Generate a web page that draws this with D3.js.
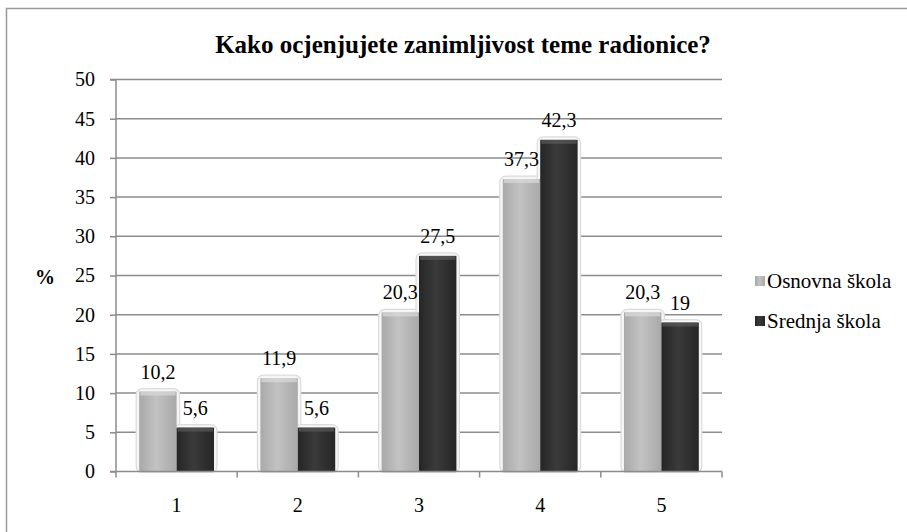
<!DOCTYPE html>
<html><head><meta charset="utf-8">
<script src="https://cdn.jsdelivr.net/npm/d3@7"></script>
<style>
body{margin:0}
svg text{font-family:"Liberation Serif","Times New Roman",Tinos,serif !important;}
</style>
</head><body>
<script>
const categories = ["1","2","3","4","5"];
const seriesNames = ["Osnovna škola","Srednja škola"];
const osnovna = [10.2, 11.9, 20.3, 37.3, 20.3];
const srednja = [5.6, 5.6, 27.5, 42.3, 19];
const yTicks = [0,5,10,15,20,25,30,35,40,45,50];
const labels1 = ["10,2","11,9","20,3","37,3","20,3"];
const labels2 = ["5,6","5,6","27,5","42,3","19"];
const title = "Kako ocjenjujete zanimljivost teme radionice?";

const W=907,H=532;
const font="Liberation Serif";
const svg=d3.select("body").append("svg").attr("width",W).attr("height",H).style("display","block");
function ff(sel,size,bold){
  sel.attr("font-family",font).style("font-size",size+"px");
  if(bold) sel.style("font-weight","bold");
  return sel;
}
const defs=svg.append("defs");
function grad(id, edge, mid){
  const g=defs.append("linearGradient").attr("id",id).attr("x1","0").attr("x2","1").attr("y1","0").attr("y2","0");
  g.append("stop").attr("offset","0%").attr("stop-color",edge);
  g.append("stop").attr("offset","45%").attr("stop-color",mid);
  g.append("stop").attr("offset","100%").attr("stop-color",edge);
}
grad("gL","#a9a9a9","#c2c2c2");
grad("gD","#262626","#3a3a3a");
const colors=["url(#gL)","url(#gD)"];

// border
svg.append("path").attr("d","M6.5,540 V8.5 H920").attr("fill","none").attr("stroke","#9a9a9a").attr("stroke-width",1.5);

const x0=116,x1=722,yT=79.5,yB=471.5;
const x=d3.scaleBand().domain(categories).range([x0,x1]);
const xs=d3.scaleBand().domain([0,1]).range([0,x.bandwidth()]).paddingOuter(0.62).paddingInner(0);
const y=d3.scaleLinear().domain([0,50]).range([yB,yT]);

// gridlines
svg.append("g").selectAll("line").data(yTicks.filter(d=>d>0)).join("line")
 .attr("x1",x0).attr("x2",x1).attr("y1",d=>y(d)).attr("y2",d=>y(d))
 .attr("stroke","#8c8c8c").attr("stroke-width",1.5);

// y axis
const ya=svg.append("g").attr("transform",`translate(${x0},0)`).call(d3.axisLeft(y).tickValues(yTicks).tickSize(6).tickPadding(15));
ya.attr("font-family",font).attr("font-size",20);
ya.select(".domain").attr("stroke","#8c8c8c").attr("stroke-width",1.5).attr("d",`M-6,${yB}H0V${yT}H-6`);
ya.selectAll(".tick line").attr("stroke","#8c8c8c").attr("stroke-width",1.5);
ff(ya.selectAll("text"),20).attr("fill","#000");

// bars
const data=[osnovna,srednja];
const gb=svg.append("g");
categories.forEach((c,i)=>{
  [0,1].forEach(s=>{
    const v=data[s][i];
    const bx=x(c)+xs(s), bw=xs.bandwidth();
    gb.append("rect").attr("x",bx-3).attr("y",y(v)-3).attr("width",bw+6).attr("height",yB-y(v)+4)
      .attr("rx",6).attr("fill","#f6f6f6").attr("stroke","#dcdcdc").attr("stroke-width",1.2);
  });
});
categories.forEach((c,i)=>{
  [0,1].forEach(s=>{
    const v=data[s][i];
    const bx=x(c)+xs(s), bw=xs.bandwidth();
    gb.append("rect").attr("x",bx).attr("y",y(v)).attr("width",bw).attr("height",yB-y(v))
      .attr("fill",colors[s]);
    gb.append("rect").attr("x",bx+1).attr("y",y(v)).attr("width",bw-2).attr("height",4)
      .attr("fill",s===0?"#dadada":"#5a5a5a").attr("opacity",0.7);
  });
});

// x axis
const xa=svg.append("g").attr("transform",`translate(0,${yB})`).call(d3.axisBottom(x).tickSize(0).tickPadding(26));
xa.attr("font-family",font).attr("font-size",20);
xa.select(".domain").attr("stroke","#8c8c8c").attr("stroke-width",1.5).attr("d",`M${x0},0H${x1}`);
ff(xa.selectAll("text"),20).attr("fill","#000");
svg.append("g").selectAll("line").data(d3.range(categories.length+1)).join("line")
 .attr("x1",d=>x0+d*x.step()).attr("x2",d=>x0+d*x.step()).attr("y1",yB).attr("y2",yB+6)
 .attr("stroke","#8c8c8c").attr("stroke-width",1.5);

// data labels
const gl=svg.append("g").attr("text-anchor","middle");
categories.forEach((c,i)=>{
  [[labels1,osnovna,0],[labels2,srednja,1]].forEach(([lab,vals,s])=>{
    ff(gl.append("text").attr("x",x(c)+xs(s)+xs.bandwidth()/2).attr("y",y(vals[i])-13),20).text(lab[i]);
  });
});

// title
ff(svg.append("text").attr("x",463).attr("y",53).attr("text-anchor","middle"),25,true).text(title);

// y label
ff(svg.append("text").attr("x",45).attr("y",284).attr("text-anchor","middle"),20,true).text("%");

// legend
const lg=svg.append("g");
seriesNames.forEach((n,i)=>{
  const ly=281+i*40;
  lg.append("rect").attr("x",755).attr("y",ly-5).attr("width",10).attr("height",10).attr("fill",colors[i]);
  ff(lg.append("text").attr("x",767).attr("y",ly+7),21).text(n);
});
</script>
</body></html>
